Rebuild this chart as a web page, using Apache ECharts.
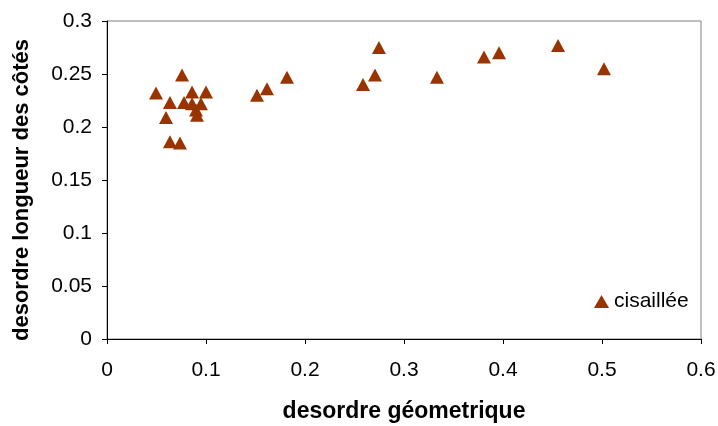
<!DOCTYPE html>
<html>
<head>
<meta charset="utf-8">
<script src="https://cdn.jsdelivr.net/npm/echarts@6/dist/echarts.min.js"></script>
<style>
html,body{margin:0;padding:0;background:#fff;}
#chart{width:718px;height:426px;}
</style>
</head>
<body>
<div id="chart"></div>
<script>
const seriesName = 'cisaillée';
const xValues = [0.0495,0.0758,0.0636,0.0596,0.0636,0.0737,0.0859,0.100,0.0778,0.0859,0.0949,0.0899,0.0909,0.1515,0.1616,0.1818,0.2586,0.2707,0.2747,0.3333,0.3808,0.396,0.4556,0.502];
const yValues = [0.232,0.249,0.223,0.209,0.186,0.185,0.233,0.233,0.223,0.222,0.222,0.216,0.211,0.230,0.236,0.247,0.240,0.249,0.275,0.247,0.266,0.270,0.277,0.255];
const xTicks = ['0','0.1','0.2','0.3','0.4','0.5','0.6'];
const yTicks = ['0','0.05','0.1','0.15','0.2','0.25','0.3'];
const xTitle = 'desordre géometrique';
const yTitle = 'desordre longueur des côtés';

const points = xValues.map((x, i) => [x, yValues[i]]);
const font = 'Liberation Sans, Arial, sans-serif';

const chart = echarts.init(document.getElementById('chart'), null, {renderer: 'canvas'});
chart.setOption({
  animation: false,
  backgroundColor: '#ffffff',
  grid: {left: 107, right: 17, top: 21, bottom: 87, show: true, borderColor: '#808080', borderWidth: 1,
    containLabel: false, outerBoundsMode: 'none'},
  legend: {
    data: [seriesName], left: 589, top: 286, icon: 'triangle', itemWidth: 15, itemHeight: 13, itemGap: 5,
    textStyle: {fontFamily: font, fontSize: 21, color: '#000'}
  },
  xAxis: {
    type: 'value', min: 0, max: 0.6, interval: 0.1,
    name: xTitle, nameLocation: 'middle', nameGap: 61,
    nameTextStyle: {fontFamily: font, fontSize: 23, fontWeight: 'bold', color: '#000'},
    axisLine: {show: true, lineStyle: {color: '#000', width: 1}},
    axisTick: {show: true, length: 5, lineStyle: {color: '#000'}},
    splitLine: {show: false},
    axisLabel: {fontFamily: font, fontSize: 21, color: '#000', margin: 21,
      formatter: (v) => xTicks[Math.round(v / 0.1)]}
  },
  yAxis: {
    type: 'value', min: 0, max: 0.3, interval: 0.05,
    name: yTitle, nameLocation: 'middle', nameGap: 74, nameRotate: 90,
    nameTextStyle: {fontFamily: font, fontSize: 22, fontWeight: 'bold', color: '#000', padding: [0, 20, 0, 0]},
    axisLine: {show: true, lineStyle: {color: '#000', width: 1}},
    axisTick: {show: true, length: 5, lineStyle: {color: '#000'}},
    splitLine: {show: false},
    axisLabel: {fontFamily: font, fontSize: 21, color: '#000', margin: 15,
      formatter: (v) => yTicks[Math.round(v / 0.05)]}
  },
  series: [{
    name: seriesName, type: 'scatter', data: points,
    symbol: 'triangle', symbolSize: [14, 13],
    itemStyle: {color: '#993300', opacity: 1}
  }]
});
</script>
</body>
</html>
